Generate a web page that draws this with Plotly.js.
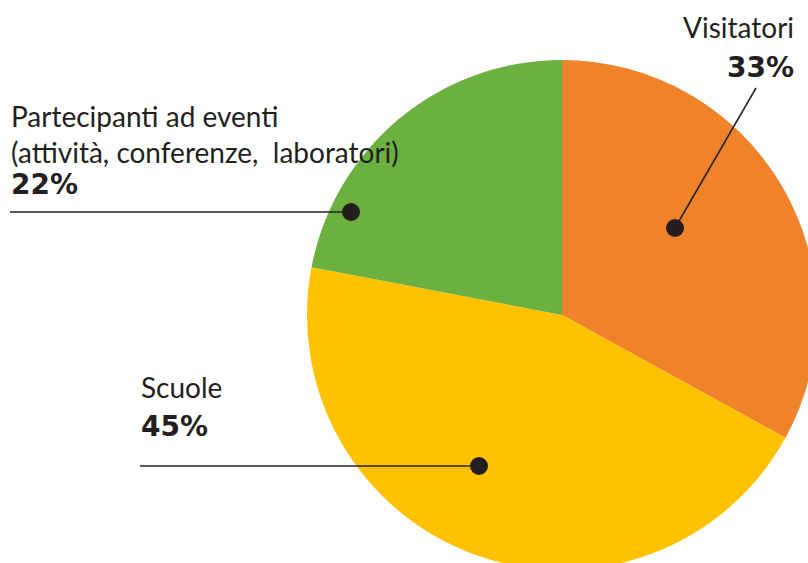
<!DOCTYPE html>
<html>
<head>
<meta charset="utf-8">
<script src="https://cdn.plot.ly/plotly-3.0.1.min.js"></script>
<style>
html,body{margin:0;padding:0;overflow:hidden;background:#fff;width:808px;height:563px;}
#chart{position:absolute;left:0;top:0;width:1000px;height:700px;}
</style>
</head>
<body>
<div id="chart"></div>
<script>
const categories = ["Visitatori", "Scuole", "Partecipanti ad eventi (attività, conferenze,  laboratori)"];
const values = [33, 45, 22];
const percentLabels = ["33%", "45%", "22%"];
const colors = ["#F0822A", "#FFC100", "#6CB040"];

const W = 1000, H = 700;
const px = x => x / W;
const py = y => 1 - y / H;
const cx = 562, cy = 315, R = 255;

const textColor = "#231F20";
const fontReg = "Lato, 'Noto Sans', sans-serif";
const fontBold = "'DejaVu Sans', sans-serif";

const trace = {
  type: "pie",
  labels: categories,
  values: values,
  sort: false,
  direction: "clockwise",
  rotation: 0,
  marker: {colors: colors, line: {width: 0}},
  textinfo: "none",
  hoverinfo: "label+percent",
  showlegend: false,
  domain: {x: [px(cx - R), px(cx + R)], y: [py(cy + R), py(cy - R)]}
};

function ann(x, y, text, anchor, bold) {
  return {
    xref: "paper", yref: "paper", x: px(x), y: py(y),
    text: bold ? "<b>" + text + "</b>" : text,
    showarrow: false, xanchor: anchor, yanchor: "middle",
    borderpad: 0,
    font: bold ? {family: fontBold, size: 28, color: textColor}
               : {family: fontReg, size: 28, color: textColor}
  };
}

const annotations = [
  ann(10, 116, "Partecipanti ad eventi", "left", false),
  ann(10, 152, "(attività, conferenze,  laboratori)", "left", false),
  ann(10, 184, percentLabels[2], "left", true),
  ann(140, 387, "Scuole", "left", false),
  ann(140, 426, percentLabels[1], "left", true),
  ann(795, 27, categories[0], "right", false),
  ann(795, 67, percentLabels[0], "right", true)
];

const dotR = 9;
function dot(x, y) {
  return {type: "circle", xref: "paper", yref: "paper",
    x0: px(x - dotR), x1: px(x + dotR), y0: py(y + dotR), y1: py(y - dotR),
    fillcolor: textColor, line: {width: 0}};
}
function seg(x0, y0, x1, y1) {
  return {type: "line", xref: "paper", yref: "paper",
    x0: px(x0), y0: py(y0), x1: px(x1), y1: py(y1),
    line: {color: textColor, width: 1.5}};
}

const shapes = [
  seg(10, 212, 351, 212), dot(351, 212),
  seg(140, 466, 479, 466), dot(479, 466),
  seg(756, 88, 675, 228), dot(675, 228)
];

const layout = {
  width: W, height: H,
  margin: {l: 0, r: 0, t: 0, b: 0},
  paper_bgcolor: "#fff",
  showlegend: false,
  annotations: annotations,
  shapes: shapes
};

Plotly.newPlot("chart", [trace], layout, {displayModeBar: false, staticPlot: true});
</script>
</body>
</html>
